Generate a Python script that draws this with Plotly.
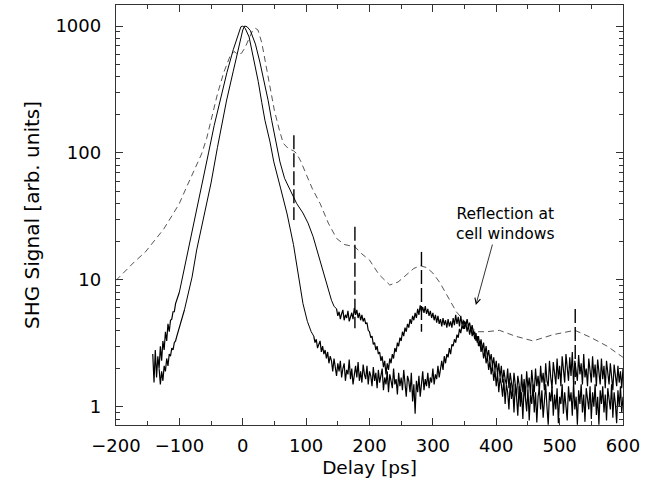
import math
import plotly.graph_objects as go

# ---------------- data ----------------
# Solid curve A (narrower, peak near 0 ps)
a_start_delay = list(range(-142, -103, 2))
a_start_signal = [2.6, 1.55, 2.8, 1.7, 2.5, 2.0, 3.0, 2.3, 3.3, 2.8,
                  3.9, 3.3, 4.5, 3.9, 4.8, 4.9, 5.6, 5.6, 6.5, 6.9]
a_mid_delay = [-100, -95, -86, -75, -65, -54, -45, -36, -25, -15, -8, -3, 0, 4,
               10, 17, 24.5, 30, 35, 43, 49, 60, 70, 80, 88, 95, 102, 108]
a_mid_signal = [8.0, 10.5, 17.2, 30, 52, 100, 165, 261, 430, 650, 850, 985, 1000, 955,
                820, 560, 364, 250, 181, 122, 85, 52, 33, 19, 11, 6.5, 4.7, 3.9]
a_tail_delay = list(range(112, 601, 2))
a_tail_signal = [
    3.6, 3.2, 3.4, 2.9, 3.1, 3.3, 2.7, 3.0, 2.6, 2.8,
    2.4, 2.7, 2.2, 2.5, 2.3, 1.9, 2.4, 2.1, 1.75, 2.2,
    1.9, 2.3, 1.7, 2.0, 2.2, 1.6, 1.95, 1.8, 2.35, 1.65,
    2.0, 1.5, 1.85, 2.1, 1.7, 2.25, 1.6, 1.9, 1.55, 2.15,
    1.8, 1.65, 2.1, 1.5, 1.9, 1.75, 1.45, 2.05, 1.6, 1.85,
    1.4, 1.95, 1.55, 1.75, 2.0, 1.35, 1.7, 1.5, 1.9, 1.3,
    1.8, 1.6, 1.4, 2.0, 1.5, 1.65, 1.25, 1.85, 1.45, 1.7,
    1.35, 1.95, 1.55, 1.2, 1.75, 1.6, 1.3, 1.85, 1.1, 1.5,
    0.88, 1.6, 1.3, 1.75, 1.2, 1.5, 1.9, 1.35, 1.65, 1.45,
    1.85, 1.4, 1.7, 1.55, 2.0, 1.5, 1.8, 1.65, 2.1, 1.7,
    2.0, 2.3, 1.95, 2.5, 2.2, 2.6, 2.45, 2.9, 2.6, 3.1,
    3.0, 3.4, 3.2, 3.7, 3.5, 4.1, 3.8, 4.4, 4.1, 4.7,
    4.4, 4.9, 4.3, 4.6, 4.0, 4.4, 3.7, 3.9, 3.3, 3.6,
    3.0, 3.3, 2.7, 3.0, 2.4, 2.75, 2.2, 2.5, 1.95, 2.3,
    1.8, 2.15, 1.6, 1.95, 1.45, 1.85, 1.3, 1.7, 1.5, 1.2,
    1.65, 1.05, 1.5, 1.3, 0.95, 1.55, 1.15, 1.4, 0.9, 1.5,
    1.2, 0.85, 1.45, 1.0, 1.3, 0.8, 1.5, 1.1, 0.92, 1.4,
    0.78, 1.25, 1.05, 1.5, 0.9, 1.3, 0.75, 1.2, 1.4, 0.95,
    1.35, 0.82, 1.15, 1.5, 1.0, 0.72, 1.3, 1.1, 1.45, 0.85,
    1.25, 0.95, 1.4, 0.74, 1.2, 1.05, 1.5, 0.88, 1.3, 1.0,
    0.78, 1.45, 1.1, 1.3, 0.85, 1.55, 0.95, 1.2, 0.72, 1.35,
    1.05, 1.5, 0.9, 1.25, 0.76, 1.4, 1.1, 0.95, 1.45, 0.8,
    1.3, 1.0, 1.5, 0.86, 1.2, 0.72, 1.35, 1.05, 1.45, 0.9,
    1.25, 0.78, 1.4, 1.1, 0.95, 1.5, 0.82, 1.3, 1.05, 0.74,
    1.35, 1.0, 1.45, 0.9, 1.2]

# Solid curve B (wider, with shoulders and bump at 280 ps)
b_start_delay = list(range(-132, -95, 2))
b_start_signal = [2.0, 1.5, 1.9, 1.6, 2.1, 1.9, 2.4, 2.1, 2.6, 2.5,
                  2.9, 2.8, 3.2, 3.3, 3.6, 3.9, 4.3, 4.6, 5.0]
b_mid_delay = [-92, -88.5, -80, -72.7, -60, -50, -40, -25.4, -15, -5, 0, 3, 7, 12,
               20, 27, 34, 40, 45.6, 52, 58.7, 66, 74.5, 85, 95, 103, 111, 119,
               127, 134, 140, 144]
b_mid_signal = [5.8, 6.9, 10.5, 17.2, 33, 58, 110, 261, 440, 750, 930, 1000, 985, 920,
                720, 520, 364, 260, 181, 125, 85, 63, 51, 40, 33.6, 28, 21.9, 16,
                11.3, 8.8, 6.9, 6.2]
b_tail_delay = list(range(148, 601, 2))
b_tail_signal = [
    5.9, 5.2, 5.6, 4.9, 5.4, 5.8, 4.8, 5.3, 5.0, 5.7,
    4.7, 5.2, 5.5, 4.9, 6.0, 5.3, 5.8, 5.0, 5.5, 4.8,
    5.3, 4.7, 5.0, 4.5, 4.6, 4.0, 3.9, 3.5, 3.6, 3.1,
    3.2, 2.8, 3.0, 2.6, 2.7, 2.3, 2.5, 2.05, 2.3, 1.8,
    2.2, 1.95, 2.4, 2.2, 2.6, 2.4, 2.9, 2.7, 3.2, 3.0,
    3.5, 3.3, 3.9, 3.6, 4.2, 3.9, 4.5, 4.2, 4.9, 4.5,
    5.2, 4.8, 5.5, 5.0, 5.9, 5.3, 6.3, 5.6, 6.1, 5.5,
    6.2, 5.4, 5.9, 5.2, 5.7, 5.0, 5.5, 4.8, 5.3, 4.6,
    5.2, 4.5, 4.9, 4.3, 5.0, 4.4, 4.8, 4.2, 4.9, 4.3,
    4.7, 4.2, 5.0, 4.4, 5.3, 4.5, 5.1, 4.3, 5.2, 4.4,
    4.8, 4.1, 4.6, 3.9, 4.4, 3.7, 4.2, 3.6, 4.0, 3.4,
    3.8, 3.2, 3.6, 3.0, 3.4, 2.8, 3.2, 2.6, 3.0, 2.45,
    2.8, 2.3, 2.6, 2.1, 2.45, 1.95, 2.3, 1.8, 2.2, 1.7,
    2.1, 1.55, 1.95, 1.65, 1.5, 2.0, 1.4, 1.85, 1.6, 1.3,
    1.85, 1.45, 1.2, 1.75, 1.5, 1.15, 1.8, 1.3, 1.65, 1.2,
    1.9, 1.4, 1.7, 1.25, 1.95, 1.5, 1.3, 2.0, 1.45, 1.75,
    1.3, 2.1, 1.55, 1.85, 1.35, 2.2, 1.6, 1.45, 2.3, 1.7,
    1.4, 2.25, 1.9, 1.5, 2.4, 1.65, 2.1, 1.45, 2.5, 1.8,
    1.55, 2.6, 1.9, 1.6, 2.45, 1.75, 2.7, 1.5, 2.3, 1.95,
    1.6, 2.55, 1.8, 2.2, 1.5, 2.6, 1.7, 2.0, 1.45, 2.4,
    1.85, 1.55, 2.5, 1.7, 2.15, 1.45, 2.35, 1.8, 1.5, 2.4,
    1.65, 2.1, 1.4, 2.3, 1.75, 1.5, 2.2, 1.6, 1.35, 2.15,
    1.7, 1.45, 2.1, 1.55, 1.9, 1.4, 2.0]

# Dashed curve
c_delay = [-200, -185, -170, -154, -140, -125, -110, -100, -88.5, -75,
           -65, -57, -48, -40, -30, -20, -14, -8, -2, 4,
           10, 16, 20, 24, 30, 36, 43, 50, 58, 64,
           72, 80, 85, 92, 100, 110, 122, 135, 148, 160,
           170, 177, 188, 200, 215, 232, 245, 258, 270, 280,
           290, 300, 311, 322, 337, 355, 370, 385, 405, 430,
           458, 490, 524, 550, 575, 600]
c_signal = [9.9, 11.8, 14, 16.5, 20, 25, 33, 40, 54, 75,
            98, 130, 200, 290, 430, 580, 630, 600, 610, 680,
            800, 930, 960, 930, 740, 520, 330, 215, 150, 119,
            108, 104, 99, 85, 68, 52, 40, 28, 21.2, 19,
            18.5, 18.2, 16, 14.3, 11, 9.1, 9.6, 11, 12.3, 12.9,
            12.5, 11.3, 9.5, 7.6, 5.6, 4.4, 3.9, 3.9, 4.0, 3.6,
            3.3, 3.7, 4.0, 3.5, 3.0, 2.45]

# Vertical dashed markers
marker_delay = [80.7, 177, 282, 524.6]
marker_top = [138, 26.2, 16.6, 5.9]
marker_bottom = [29.6, 4.15, 3.9, 1.5]

x_tick_vals = [-200, -100, 0, 100, 200, 300, 400, 500, 600]
y_tick_vals = [1, 10, 100, 1000]
y_tick_text = ["1", "10", "100", "1000"]

annotation_text = "Reflection at<br>cell windows"

# ---------------- figure ----------------
fig = go.Figure()

fig.add_trace(go.Scatter(
    x=c_delay, y=c_signal, mode="lines",
    line=dict(color="#555555", width=1, dash="6px,4px"),
    showlegend=False, hoverinfo="skip"))

# smooth parts (thin) and noisy parts (slightly heavier, as in the scan)
curves = [
    (a_start_delay, a_start_signal, a_mid_delay, a_mid_signal, a_tail_delay, a_tail_signal),
    (b_start_delay, b_start_signal, b_mid_delay, b_mid_signal, b_tail_delay, b_tail_signal),
]
for sd, ss, md, ms, td, ts in curves:
    fig.add_trace(go.Scatter(
        x=sd + md[:1], y=ss + ms[:1], mode="lines",
        line=dict(color="black", width=1.2),
        showlegend=False, hoverinfo="skip"))
    fig.add_trace(go.Scatter(
        x=md + td[:1], y=ms + ts[:1], mode="lines",
        line=dict(color="black", width=1),
        showlegend=False, hoverinfo="skip"))
    fig.add_trace(go.Scatter(
        x=td, y=ts, mode="lines",
        line=dict(color="black", width=1.2),
        showlegend=False, hoverinfo="skip"))

for mx, mt, mb in zip(marker_delay, marker_top, marker_bottom):
    fig.add_trace(go.Scatter(
        x=[mx, mx], y=[mt, mb], mode="lines",
        line=dict(color="black", width=1.4, dash="14px,4px"),
        showlegend=False, hoverinfo="skip"))

font_family = "DejaVu Sans, Liberation Sans, Arial, sans-serif"

fig.add_annotation(x=413.6, y=math.log10(27.5), xref="x", yref="y",
                   text=annotation_text, showarrow=False, align="center",
                   font=dict(family=font_family, size=15.5, color="black"))
fig.add_annotation(x=367.8, y=math.log10(6.33), xref="x", yref="y",
                   text="", showarrow=True, ax=17, ay=-62,
                   arrowhead=5, arrowsize=1.4, arrowwidth=0.8, arrowcolor="black")

axis_color = "#333333"
fig.update_xaxes(
    range=[-200, 600], tickmode="array", tickvals=x_tick_vals,
    ticks="inside", ticklen=7, tickwidth=1.2, tickcolor=axis_color,
    minor=dict(dtick=50, tick0=0, ticks="inside", ticklen=4, tickcolor=axis_color, tickwidth=1),
    showline=True, linecolor=axis_color, linewidth=1.4, mirror="allticks",
    showgrid=False, zeroline=False,
    tickfont=dict(family=font_family, size=18, color="black"),
    title=dict(text="Delay [ps]", font=dict(family=font_family, size=18.5, color="black"),
               standoff=6),
    ticklabelstandoff=4,
)
fig.update_yaxes(
    type="log", range=[-0.144, 3.1655], tickmode="array",
    tickvals=y_tick_vals, ticktext=y_tick_text,
    ticks="inside", ticklen=7, tickwidth=1.2, tickcolor=axis_color,
    minor=dict(dtick="D1", ticks="inside", ticklen=4, tickcolor=axis_color, tickwidth=1),
    showline=True, linecolor=axis_color, linewidth=1.4, mirror="allticks",
    showgrid=False, zeroline=False,
    tickfont=dict(family=font_family, size=18, color="black"),
    title=dict(text="SHG Signal [arb. units]", font=dict(family=font_family, size=20, color="black"),
               standoff=10),
    ticklabelstandoff=10,
)

fig.update_layout(
    width=665, height=489,
    margin=dict(l=116, r=42, t=5, b=64, autoexpand=False),
    paper_bgcolor="white", plot_bgcolor="white",
    showlegend=False,
)

fig.write_html("out.html", config={"displayModeBar": False},
               post_script="document.body.style.margin='0px';")
